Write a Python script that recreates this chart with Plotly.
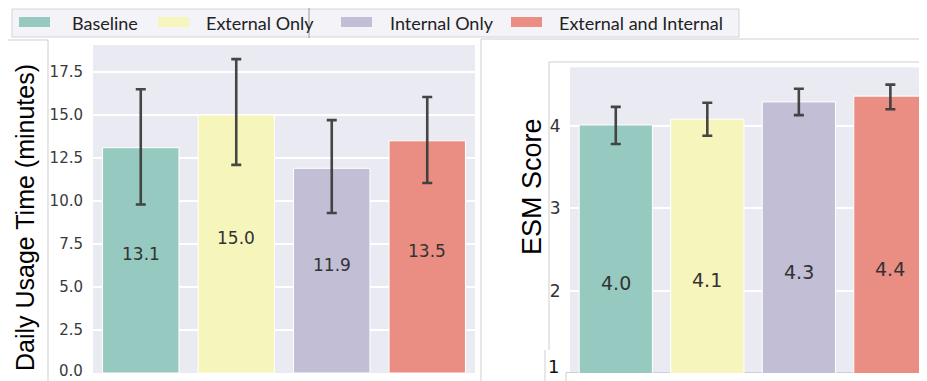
import colorsys
import plotly.graph_objects as go

# ---------------- data ----------------
categories = ["Baseline", "External Only", "Internal Only", "External and Internal"]

usage_mean = [13.1, 15.0, 11.9, 13.5]
usage_upper = [16.5, 18.25, 14.7, 16.05]
usage_lower = [9.8, 12.1, 9.3, 11.05]

esm_mean = [4.01, 4.08, 4.29, 4.36]
esm_upper = [4.23, 4.28, 4.45, 4.50]
esm_lower = [3.78, 3.88, 4.13, 4.20]

usage_ticks = [0.0, 2.5, 5.0, 7.5, 10.0, 12.5, 15.0, 17.5]
esm_ticks = [1, 2, 3, 4]

# ---------------- style ----------------
base_palette = ["#8dd3c7", "#ffffb3", "#bebada", "#fb8072"]


def desaturate(hex_color, prop=0.75):
    h = hex_color.lstrip("#")
    r, g, b = (int(h[i:i + 2], 16) / 255 for i in (0, 2, 4))
    hh, ll, ss = colorsys.rgb_to_hls(r, g, b)
    r, g, b = colorsys.hls_to_rgb(hh, ll, ss * prop)
    return "rgb(%d,%d,%d)" % (round(r * 255), round(g * 255), round(b * 255))


colors = [desaturate(c) for c in base_palette]

# the page body has an 8px margin, so the figure is drawn at (8, 8)
OFF = 8
W, H = 927 - OFF, 381 - OFF
BG = "#EAEAF2"
ERR = "rgba(60,60,60,0.95)"
TICKFONT_L = dict(family="DejaVu Sans", size=15, color="#3a3a3a")
TICKFONT_R = dict(family="DejaVu Sans", size=17, color="#333333")


def px(x):
    return (x - OFF) / W


def py(y):
    return (H - (y - OFF)) / H


fig = go.Figure()

fig.add_trace(go.Bar(
    x=categories, y=usage_mean,
    marker=dict(color=colors, line=dict(color="white", width=1)),
    error_y=dict(type="data", symmetric=False,
                 array=[u - m for u, m in zip(usage_upper, usage_mean)],
                 arrayminus=[m - l for l, m in zip(usage_lower, usage_mean)],
                 color=ERR, thickness=2.6, width=5),
    xaxis="x", yaxis="y", showlegend=False, hoverinfo="skip",
))

fig.add_trace(go.Bar(
    x=categories, y=esm_mean,
    marker=dict(color=colors, line=dict(color="white", width=1)),
    error_y=dict(type="data", symmetric=False,
                 array=[u - m for u, m in zip(esm_upper, esm_mean)],
                 arrayminus=[m - l for l, m in zip(esm_lower, esm_mean)],
                 color=ERR, thickness=2.6, width=5),
    xaxis="x2", yaxis="y2", showlegend=False, hoverinfo="skip",
))

annotations = []
for c, v in zip(categories, usage_mean):
    annotations.append(dict(x=c, y=v / 2, xref="x", yref="y", text=f"{v:.1f}",
                            showarrow=False, yshift=6,
                            font=dict(family="DejaVu Sans", size=17, color="#333333")))
for c, v in zip(categories, esm_mean):
    annotations.append(dict(x=c, y=v / 2, xref="x2", yref="y2", text=f"{v:.1f}",
                            showarrow=False, yshift=7,
                            font=dict(family="DejaVu Sans", size=19, color="#333333")))

# bottom-most tick labels, which sit on the lower edge of the picture
annotations.append(dict(x=px(84), y=0, xref="paper", yref="paper",
                        text=f"{usage_ticks[0]:.1f}", showarrow=False,
                        xanchor="right", yanchor="bottom", borderpad=0,
                        font=TICKFONT_L))
annotations.append(dict(x=px(561), y=py(366), xref="paper", yref="paper",
                        text=str(esm_ticks[0]), showarrow=False,
                        xanchor="right", yanchor="middle",
                        font=dict(family="DejaVu Sans", size=18, color="#111111")))

# axis titles
annotations.append(dict(x=px(25), y=py(218), xref="paper", yref="paper",
                        text="Daily Usage Time (minutes)", textangle=-90,
                        showarrow=False, xanchor="center", yanchor="middle",
                        font=dict(family="Liberation Sans", size=25, color="black")))
annotations.append(dict(x=px(532), y=py(187), xref="paper", yref="paper",
                        text="ESM Score", textangle=-90,
                        showarrow=False, xanchor="center", yanchor="middle",
                        font=dict(family="Liberation Sans", size=27, color="black")))

# manual legend
shapes = []
shapes.append(dict(type="rect", xref="paper", yref="paper",
                   x0=px(12), x1=px(739), y0=py(37), y1=py(9),
                   fillcolor="#F3F3F8", line=dict(color="#D4D4D8", width=1), layer="below"))
swatch_x = [19, 158, 341, 511]
text_x = [70, 204, 388, 557]
for sx, tx, col, name in zip(swatch_x, text_x, colors, categories):
    shapes.append(dict(type="rect", xref="paper", yref="paper",
                       x0=px(sx), x1=px(sx + 31), y0=py(27), y1=py(17),
                       fillcolor=col, line=dict(width=0)))
    annotations.append(dict(x=px(tx), y=py(22.5), xref="paper", yref="paper",
                            text=name, showarrow=False, xanchor="left", yanchor="middle",
                            font=dict(family="Lato", size=18, color="#222222")))

# composite frame artifacts
FR = "#CFCFCF"
for (x0, y0, x1, y1, col) in [
    (8, 40, 48, 40, FR), (48, 40, 48, 381, FR),
    (481, 39, 927, 39, FR), (481, 39, 481, 381, FR),
    (549, 62, 927, 62, FR), (549, 62, 549, 350, FR),
    (545, 350, 545, 381, FR), (566, 372.5, 927, 372.5, FR), (566, 372.5, 566, 381, FR),
    (309, 6, 309, 38, "#9A9A9A"),
]:
    shapes.append(dict(type="line", xref="paper", yref="paper",
                       x0=px(x0), x1=px(x1), y0=py(y0), y1=py(y1),
                       line=dict(color=col, width=1), layer="below"))

fig.update_layout(
    width=W, height=H,
    margin=dict(l=0, r=0, t=0, b=0),
    paper_bgcolor="white", plot_bgcolor=BG,
    bargap=0.2,
    showlegend=False,
    xaxis=dict(domain=[px(93), px(475)], range=[-0.5, 3.5], showticklabels=False,
               showgrid=False, zeroline=False, ticks="", fixedrange=True, anchor="y"),
    yaxis=dict(domain=[py(373), py(45)], range=[0, 19.07], tickvals=usage_ticks[1:],
               ticktext=[f"{t:.1f}" for t in usage_ticks[1:]],
               gridcolor="white", gridwidth=1.5, zeroline=False, anchor="x",
               ticks="outside", ticklen=6, tickcolor="rgba(0,0,0,0)",
               tickfont=TICKFONT_L),
    xaxis2=dict(domain=[px(570), 1], range=[-0.5, 3.40], showticklabels=False,
                showgrid=False, zeroline=False, ticks="", anchor="y2"),
    yaxis2=dict(domain=[py(373), py(67.3)], range=[1, 4.71], tickvals=esm_ticks[1:],
                ticktext=[str(t) for t in esm_ticks[1:]],
                gridcolor="white", gridwidth=1.5, zeroline=False, anchor="x2",
                ticks="outside", ticklen=5, tickcolor="rgba(0,0,0,0)",
                tickfont=TICKFONT_R),
    annotations=annotations,
    shapes=shapes,
)

fig.write_html("out.html")
